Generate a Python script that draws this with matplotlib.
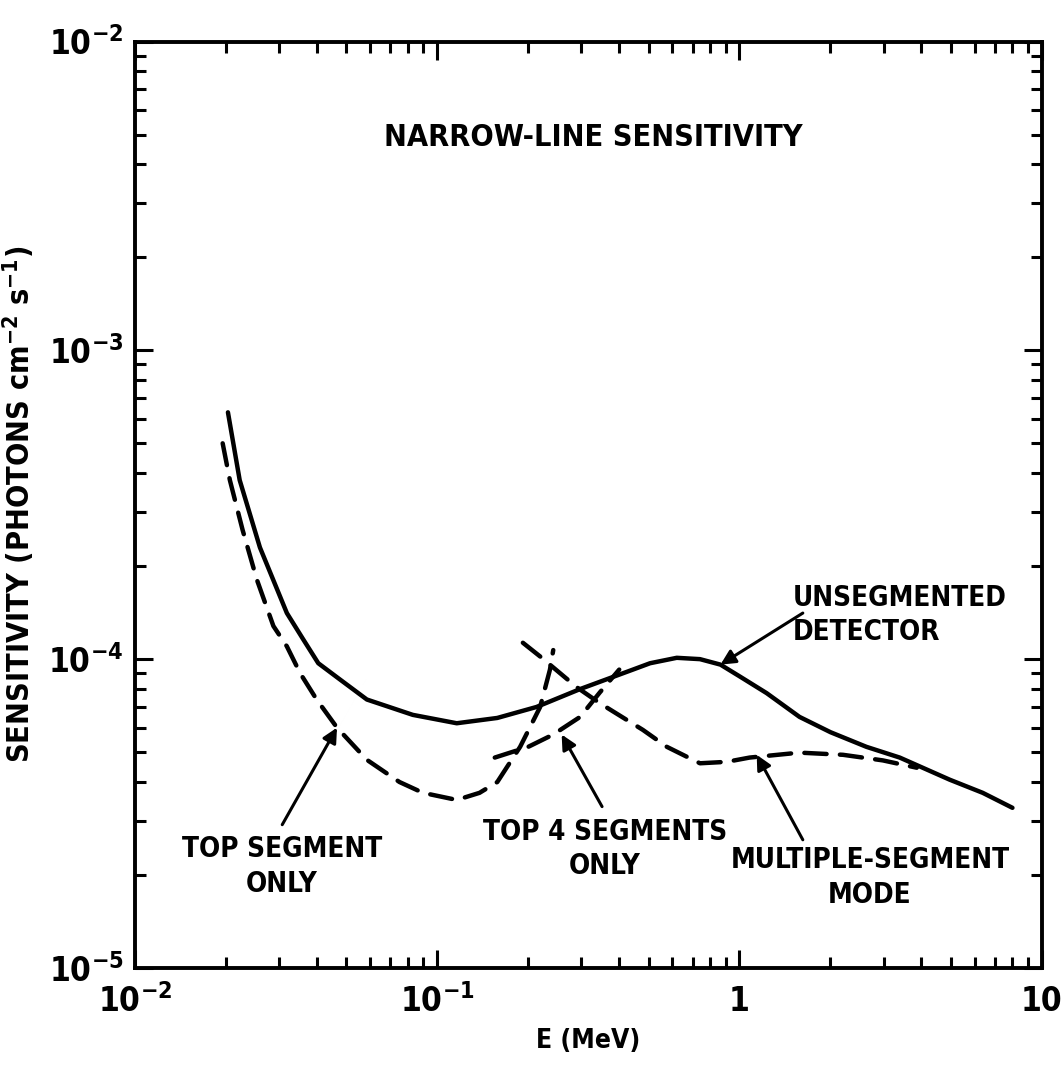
import matplotlib
matplotlib.use("Agg")
import matplotlib.pyplot as plt
from matplotlib.ticker import FixedLocator, NullFormatter, LogLocator

# ---- data ----
unseg_e = [0.0203, 0.0222, 0.0259, 0.0318, 0.036, 0.0404, 0.0476, 0.0585, 0.083, 0.116,
           0.158, 0.213, 0.297, 0.444, 0.506, 0.62, 0.74, 0.865, 1.0, 1.23, 1.58, 2.0,
           2.63, 3.39, 4.96, 6.38, 8.0]
unseg_s = [6.3e-4, 3.8e-4, 2.3e-4, 1.41e-4, 1.16e-4, 9.7e-5, 8.6e-5, 7.4e-5, 6.6e-5, 6.2e-5,
           6.45e-5, 7.0e-5, 8.0e-5, 9.25e-5, 9.7e-5, 1.01e-4, 1.0e-4, 9.6e-5, 8.8e-5, 7.76e-5,
           6.5e-5, 5.8e-5, 5.2e-5, 4.8e-5, 4.07e-5, 3.69e-5, 3.3e-5]

topseg_e = [0.0195, 0.0206, 0.0227, 0.0253, 0.0287, 0.0318, 0.0352, 0.0399, 0.0466, 0.0585,
            0.075, 0.0897, 0.116, 0.138, 0.158, 0.188, 0.219, 0.236, 0.242]
topseg_s = [5.0e-4, 3.8e-4, 2.62e-4, 1.81e-4, 1.28e-4, 1.1e-4, 9.0e-5, 7.4e-5, 6.0e-5, 4.72e-5,
            4.0e-5, 3.69e-5, 3.5e-5, 3.69e-5, 4.0e-5, 5.2e-5, 7.0e-5, 9.25e-5, 1.07e-4]

top4_e = [0.155, 0.2, 0.242, 0.297, 0.345, 0.40]
top4_s = [4.8e-5, 5.2e-5, 5.7e-5, 6.5e-5, 7.8e-5, 9.25e-5]

multi_e = [0.192, 0.219, 0.29, 0.345, 0.479, 0.575, 0.74, 0.908, 1.08, 1.58, 2.2, 2.98, 3.86]
multi_s = [1.13e-4, 1.02e-4, 8.1e-5, 7.2e-5, 5.9e-5, 5.2e-5, 4.6e-5, 4.65e-5, 4.8e-5,
           4.98e-5, 4.9e-5, 4.7e-5, 4.45e-5]

x_ticks = [1e-2, 1e-1, 1, 10]
x_labels = [r"$10^{-2}$", r"$10^{-1}$", "1", "10"]
y_ticks = [1e-5, 1e-4, 1e-3, 1e-2]
y_labels = [r"$10^{-5}$", r"$10^{-4}$", r"$10^{-3}$", r"$10^{-2}$"]

# (text, text position, arrow start, arrow tip, alignment)
annotations = [
    ("UNSEGMENTED\nDETECTOR", (1.50, 1.39e-4), (1.62, 1.41e-4), (0.865, 9.6e-5), "left"),
    ("TOP SEGMENT\nONLY", (0.0306, 2.13e-5), (0.0307, 2.91e-5), (0.0466, 6.0e-5), "center"),
    ("TOP 4 SEGMENTS\nONLY", (0.359, 2.43e-5), (0.351, 3.33e-5), (0.258, 5.7e-5), "center"),
    ("MULTIPLE-SEGMENT\nMODE", (2.70, 1.96e-5), (1.62, 2.6e-5), (1.14, 4.9e-5), "center"),
]

plt.rcParams.update({
    "font.family": "DejaVu Sans",
    "font.weight": "bold",
    "font.stretch": "condensed",
    "axes.labelweight": "bold",
    "mathtext.fontset": "custom",
    "mathtext.rm": "DejaVu Sans:weight=bold:stretch=condensed",
    "mathtext.bf": "DejaVu Sans:weight=bold:stretch=condensed",
    "mathtext.default": "bf",
})

fig = plt.figure(figsize=(10.63, 10.66), dpi=100)
ax = fig.add_axes([0.127, 0.092, 0.853, 0.869])

lw = 3.2
ax.plot(unseg_e, unseg_s, color="black", linewidth=lw, solid_capstyle="round",
        solid_joinstyle="round")
for e, s in [(topseg_e, topseg_s), (top4_e, top4_s), (multi_e, multi_s)]:
    ax.plot(e, s, color="black", linewidth=lw, dashes=(5, 3), dash_capstyle="round",
            dash_joinstyle="round")

ax.set_xscale("log")
ax.set_yscale("log")
ax.set_xlim(1e-2, 10)
ax.set_ylim(1e-5, 1e-2)

ax.xaxis.set_major_locator(FixedLocator(x_ticks))
ax.yaxis.set_major_locator(FixedLocator(y_ticks))
ax.set_xticklabels(x_labels)
ax.set_yticklabels(y_labels)
ax.xaxis.set_minor_locator(LogLocator(base=10, subs=range(2, 10)))
ax.yaxis.set_minor_locator(LogLocator(base=10, subs=range(2, 10)))
ax.xaxis.set_minor_formatter(NullFormatter())
ax.yaxis.set_minor_formatter(NullFormatter())

ax.tick_params(which="both", direction="in", top=True, right=True, width=2.2)
ax.tick_params(which="major", length=13, labelsize=24)
ax.tick_params(axis="x", which="major", pad=12)
ax.tick_params(axis="y", which="major", pad=8)
ax.tick_params(which="minor", length=8)
for sp in ax.spines.values():
    sp.set_linewidth(2.8)

ax.set_xlabel("E (MeV)", fontsize=19, fontweight="bold", labelpad=6)
ax.set_ylabel(r"SENSITIVITY (PHOTONS cm$^{-2}$ s$^{-1}$)", fontsize=22, fontweight="bold")
ax.yaxis.set_label_coords(-0.108, 0.5)

ax.text(0.505, 0.896, "NARROW-LINE SENSITIVITY", transform=ax.transAxes,
        ha="center", va="center", fontsize=22, fontweight="bold")

for text, pos, start, tip, ha in annotations:
    ax.text(pos[0], pos[1], text, ha=ha, va="center", fontsize=20, fontweight="bold",
            multialignment=ha, linespacing=1.3)
    ax.annotate("", xy=tip, xytext=start,
                arrowprops=dict(arrowstyle="-|>", color="black", lw=2.2,
                                mutation_scale=22, shrinkA=0, shrinkB=0))

fig.savefig("out.png", dpi=100)
